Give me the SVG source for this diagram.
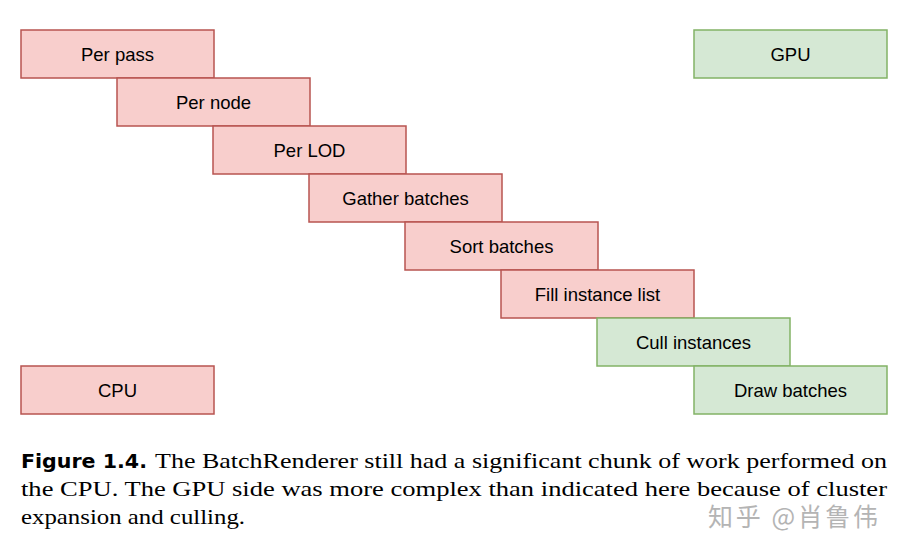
<svg xmlns="http://www.w3.org/2000/svg" width="900" height="550" viewBox="0 0 900 550">
<style>
.cpu rect{fill:#f8cecc;stroke:#b85450;stroke-width:1.5}
.gpu rect{fill:#d5e8d4;stroke:#82b366;stroke-width:1.5}
.lbl{font-family:"Liberation Sans",Arial,sans-serif;font-size:18.5px;fill:#000;text-anchor:middle;dominant-baseline:central}
.cap{font-family:"Liberation Serif","Times New Roman",serif;font-size:22px;fill:#000}
.capb{font-family:"DejaVu Sans","Liberation Sans",sans-serif;font-size:19px;font-weight:bold;fill:#000}
.wm{font-family:"Noto Sans CJK SC","Noto Sans",sans-serif;font-size:25px;fill:#b4b4b4}
</style>
<rect width="900" height="550" fill="#fff"/>
<g id="per-pass" class="cpu"><rect x="21" y="30" width="193" height="48"/><text class="lbl" x="117.5" y="54">Per pass</text></g>
<g id="per-node" class="cpu"><rect x="117" y="78" width="193" height="48"/><text class="lbl" x="213.5" y="102">Per node</text></g>
<g id="per-lod" class="cpu"><rect x="213" y="126" width="193" height="48"/><text class="lbl" x="309.5" y="150">Per LOD</text></g>
<g id="gather" class="cpu"><rect x="309" y="174" width="193" height="48"/><text class="lbl" x="405.5" y="198">Gather batches</text></g>
<g id="sort" class="cpu"><rect x="405" y="222" width="193" height="48"/><text class="lbl" x="501.5" y="246">Sort batches</text></g>
<g id="fill" class="cpu"><rect x="501" y="270" width="193" height="48"/><text class="lbl" x="597.5" y="294">Fill instance list</text></g>
<g id="cull" class="gpu"><rect x="597" y="318" width="193" height="48"/><text class="lbl" x="693.5" y="342">Cull instances</text></g>
<g id="draw" class="gpu"><rect x="694" y="366" width="193" height="48"/><text class="lbl" x="790.5" y="390">Draw batches</text></g>
<g id="gpu" class="gpu"><rect x="694" y="30" width="193" height="48"/><text class="lbl" x="790.5" y="54">GPU</text></g>
<g id="cpu" class="cpu"><rect x="21" y="366" width="193" height="48"/><text class="lbl" x="117.5" y="390">CPU</text></g>
<g id="connectors"></g>
<text class="capb" x="21" y="468" textLength="126" lengthAdjust="spacingAndGlyphs">Figure 1.4.</text>
<text class="cap" x="155" y="468" textLength="732" lengthAdjust="spacingAndGlyphs">The BatchRenderer still had a significant chunk of work performed on</text>
<text class="cap" x="21" y="496" textLength="866" lengthAdjust="spacingAndGlyphs">the CPU. The GPU side was more complex than indicated here because of cluster</text>
<text class="cap" x="21" y="524" textLength="224" lengthAdjust="spacingAndGlyphs">expansion and culling.</text>
<text class="wm" x="708" y="526" textLength="170" lengthAdjust="spacing">知乎 @肖鲁伟</text>
</svg>
